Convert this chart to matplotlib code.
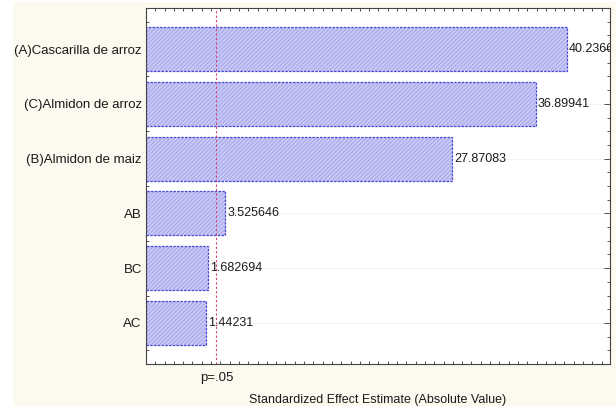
import matplotlib
matplotlib.use("Agg")
import matplotlib.pyplot as plt
from matplotlib.patches import Rectangle
from matplotlib.ticker import MultipleLocator

plt.rcParams['font.family'] = ['Liberation Sans', 'DejaVu Sans']
plt.rcParams['hatch.linewidth'] = 0.5

# effects, top to bottom
factors = ['(A)Cascarilla de arroz', '(C)Almidon de arroz', '(B)Almidon de maiz',
           'AB', 'BC', 'AC']
effects = [40.2366, 36.89941, 27.87083, 3.525646, 1.682694, 1.44231]
effect_labels = ['40.2366', '36.89941', '27.87083', '3.525646', '1.682694', '1.44231']
p_crit = 2.571  # t critical, p=.05

xmin, xmax = -5.0, 44.9

fig = plt.figure(figsize=(6.16, 4.08), dpi=100, facecolor='white')
fig.patches.append(Rectangle((13 / 616, 2 / 408), 603 / 616, 404 / 408,
                             transform=fig.transFigure, facecolor='#fcf9ef',
                             edgecolor='none', zorder=-10))
ax = fig.add_axes([146 / 616, 44 / 408, 464 / 616, 356 / 408])
ax.set_facecolor('white')

ypos = list(range(len(factors)))[::-1]
widths = [v - xmin for v in effects]
ax.barh(ypos, widths, left=xmin, height=0.8, color='#c8c8f6',
        edgecolor='#4848d8', linewidth=0.9, linestyle=(0, (2, 1)),
        hatch='////////', zorder=2)
for b in ax.patches:
    b._hatch_color = matplotlib.colors.to_rgba('#9a9ae4')

for y, v, lab in zip(ypos, effects, effect_labels):
    ax.text(v + 0.25, y, lab, va='center', ha='left', fontsize=9,
            color='#1a1a1a', clip_on=True, zorder=3)

ax.axvline(p_crit, color='#d04080', linestyle=(0, (2, 2)), linewidth=0.8, zorder=4)
for y in ypos:
    ax.axhline(y, color='#e6e6e6', linewidth=0.6, linestyle=(0, (1, 1)), zorder=1)

ax.set_xlim(xmin, xmax)
ax.set_ylim(-0.75, 5.75)
ax.set_yticks(ypos)
ax.set_yticklabels(factors, fontsize=9.5, color='#1a1a1a')
ax.yaxis.set_minor_locator(MultipleLocator(0.25))
ax.set_xticks([p_crit])
ax.set_xticklabels(['p=.05'], fontsize=9.5, color='#1a1a1a')
ax.xaxis.set_minor_locator(MultipleLocator(1))
ax.tick_params(which='both', direction='in', top=True, right=True,
               color='#333333', width=0.6)
ax.tick_params(which='major', length=0, pad=6, axis='x')
ax.tick_params(which='major', length=4, pad=3, axis='y')
ax.tick_params(which='minor', length=2.5)
for s in ax.spines.values():
    s.set_color('#444444')
    s.set_linewidth(0.8)

ax.set_xlabel('Standardized Effect Estimate (Absolute Value)', fontsize=9,
              color='#1a1a1a', labelpad=7)

fig.savefig('out.png', dpi=100, facecolor=fig.get_facecolor())
